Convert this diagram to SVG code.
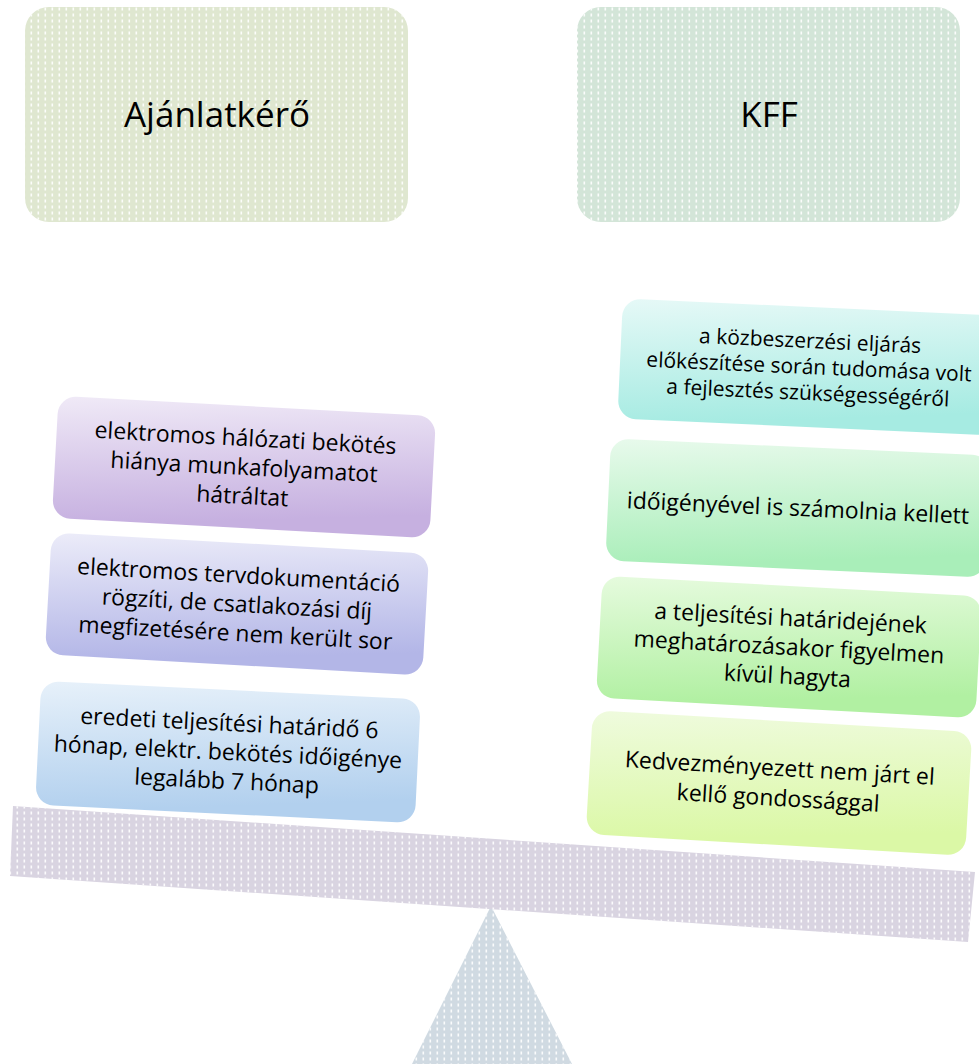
<svg xmlns="http://www.w3.org/2000/svg" width="979" height="1064" viewBox="0 0 979 1064">
  <defs>
    <pattern id="dots" width="7" height="6" patternUnits="userSpaceOnUse">
      <rect x="2.5" y="1.5" width="1.6" height="3" fill="#ffffff" opacity="0.9"/>
    </pattern>
    <linearGradient id="gL1" x1="0" y1="0" x2="0.25" y2="1">
      <stop offset="0" stop-color="#f0eaf7"/><stop offset="1" stop-color="#c6b0e0"/>
    </linearGradient>
    <linearGradient id="gL2" x1="0" y1="0" x2="0.25" y2="1">
      <stop offset="0" stop-color="#ececf9"/><stop offset="1" stop-color="#b3b6e7"/>
    </linearGradient>
    <linearGradient id="gL3" x1="0" y1="0" x2="0.25" y2="1">
      <stop offset="0" stop-color="#e7f1fa"/><stop offset="1" stop-color="#b2d0ee"/>
    </linearGradient>
    <linearGradient id="gR1" x1="0" y1="0" x2="0.25" y2="1">
      <stop offset="0" stop-color="#e6f9f7"/><stop offset="1" stop-color="#a6ebe2"/>
    </linearGradient>
    <linearGradient id="gR2" x1="0" y1="0" x2="0.25" y2="1">
      <stop offset="0" stop-color="#e8faec"/><stop offset="1" stop-color="#a9eeb9"/>
    </linearGradient>
    <linearGradient id="gR3" x1="0" y1="0" x2="0.25" y2="1">
      <stop offset="0" stop-color="#e6fbde"/><stop offset="1" stop-color="#b1f0a2"/>
    </linearGradient>
    <linearGradient id="gR4" x1="0" y1="0" x2="0.25" y2="1">
      <stop offset="0" stop-color="#effbde"/><stop offset="1" stop-color="#dbf8a6"/>
    </linearGradient>
  </defs>
  <style>
    .hdr { font-family: "Open Sans", "Noto Sans", "DejaVu Sans", sans-serif; font-size: 35px; fill: #000; text-anchor: middle; }
    .txt { font-family: "Open Sans", "Noto Sans", "DejaVu Sans", sans-serif; font-size: 23px; fill: #000; text-anchor: middle; }
    .sm { font-size: 21px; }
  </style>
  <rect width="979" height="1064" fill="#ffffff"/>

  <g id="fulcrum">
    <polygon points="491,906 412,1064 572,1064" fill="#d0dae2"/>
    <polygon points="491,906 412,1064 572,1064" fill="url(#dots)"/>
  </g>
  <g id="beam">
    <polygon points="13,806 975,872 968,942 10,876" fill="#d9d4e1"/>
    <polygon points="13,806 975,872 968,942 10,876" fill="url(#dots)"/>
  </g>

  <g id="header-ajanlatkero">
    <rect x="25" y="7" width="383" height="215" rx="24" fill="#dfe7d0"/>
    <rect x="25" y="7" width="383" height="215" rx="24" fill="url(#dots)"/>
    <text class="hdr" x="217" y="127">Ajánlatkérő</text>
  </g>
  <g id="header-kff">
    <rect x="577" y="7" width="383" height="215" rx="24" fill="#d3e5d8"/>
    <rect x="577" y="7" width="383" height="215" rx="24" fill="url(#dots)"/>
    <text class="hdr" x="769" y="127">KFF</text>
  </g>

  <g id="left-1" transform="translate(244,467) rotate(3.1)">
    <rect x="-189" y="-61" width="378" height="122" rx="18" fill="url(#gL1)"/>
    <text class="txt" y="-21">elektromos hálózati bekötés</text>
    <text class="txt" y="8">hiánya munkafolyamatot</text>
    <text class="txt" y="37">hátráltat</text>
  </g>
  <g id="left-2" transform="translate(237,604) rotate(3.2)">
    <rect x="-189" y="-61" width="378" height="122" rx="18" fill="url(#gL2)"/>
    <text class="txt" y="-21">elektromos tervdokumentáció</text>
    <text class="txt" y="8">rögzíti, de csatlakozási díj</text>
    <text class="txt" y="37">megfizetésére nem került sor</text>
  </g>
  <g id="left-3" transform="translate(228,752) rotate(2.8)">
    <rect x="-190" y="-62" width="380" height="124" rx="18" fill="url(#gL3)"/>
    <text class="txt" y="-21">eredeti teljesítési határidő 6</text>
    <text class="txt" y="8">hónap, elektr. bekötés időigénye</text>
    <text class="txt" y="37">legalább 7 hónap</text>
  </g>

  <g id="right-1" transform="translate(809,367) rotate(2.6)">
    <rect x="-189" y="-60" width="378" height="120" rx="18" fill="url(#gR1)"/>
    <text class="txt sm" y="-19">a közbeszerzési eljárás</text>
    <text class="txt sm" y="7">előkészítése során tudomása volt</text>
    <text class="txt sm" y="33">a fejlesztés szükségességéről</text>
  </g>
  <g id="right-2" transform="translate(798,508) rotate(2.6)">
    <rect x="-190" y="-61" width="380" height="122" rx="18" fill="url(#gR2)"/>
    <text class="txt" y="8">időigényével is számolnia kellett</text>
  </g>
  <g id="right-3" transform="translate(789,647) rotate(3.1)">
    <rect x="-190" y="-61" width="380" height="122" rx="18" fill="url(#gR3)"/>
    <text class="txt" y="-21">a teljesítési határidejének</text>
    <text class="txt" y="8">meghatározásakor figyelmen</text>
    <text class="txt" y="37">kívül hagyta</text>
  </g>
  <g id="right-4" transform="translate(779,783) rotate(3.3)">
    <rect x="-190" y="-62" width="380" height="124" rx="18" fill="url(#gR4)"/>
    <text class="txt" y="-7">Kedvezményezett nem járt el</text>
    <text class="txt" y="23">kellő gondossággal</text>
  </g>

  <g id="connectors"/>
</svg>
